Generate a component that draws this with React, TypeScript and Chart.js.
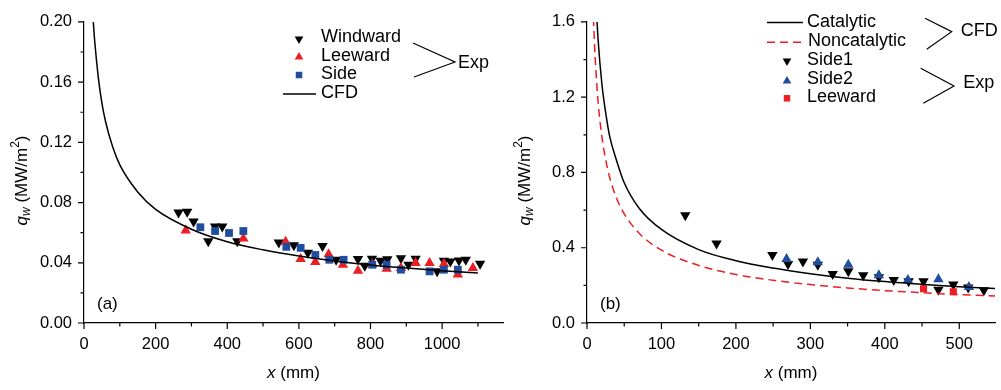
import React, { useEffect, useRef } from 'react';
import { Chart, registerables } from 'chart.js';
Chart.register(...registerables);

const FONT = '"Liberation Sans", Arial, Helvetica, sans-serif';
const RED = '#ee1d23';
const BLUE = '#1f4e9f';

// ---------- Panel (a) ----------
const aWindwardX = [264, 288, 306, 347, 366, 386, 428, 544, 586, 625, 666, 704, 765, 784, 804, 828, 847, 885, 906, 926, 986, 1005, 1023, 1047, 1066, 1106];
const aWindwardY = [0.0734, 0.0739, 0.0674, 0.0543, 0.0641, 0.0641, 0.0543, 0.0534, 0.0517, 0.0467, 0.0511, 0.042, 0.0425, 0.038, 0.0426, 0.0413, 0.0423, 0.043, 0.0387, 0.0426, 0.0343, 0.0413, 0.0408, 0.0415, 0.042, 0.0393];
const aLeewardX = [284, 445, 563, 605, 646, 683, 723, 765, 805, 845, 885, 926, 965, 1005, 1044, 1086];
const aLeewardY = [0.0615, 0.0562, 0.054, 0.0425, 0.0405, 0.0457, 0.0387, 0.0347, 0.0388, 0.036, 0.0366, 0.0399, 0.0399, 0.0392, 0.0322, 0.0366];
const aSideX = [325, 366, 405, 445, 565, 605, 646, 685, 725, 805, 845, 885, 965, 1005, 1044];
const aSideY = [0.0636, 0.0611, 0.0598, 0.0611, 0.0506, 0.0499, 0.0452, 0.042, 0.042, 0.0387, 0.0387, 0.0354, 0.0343, 0.0354, 0.0354];
const aCfdX = [22, 26, 30, 40, 50, 60, 80, 100, 150, 200, 300, 400, 500, 600, 700, 800, 900, 1000, 1100];
const aCfdY = [0.215, 0.2, 0.187, 0.163, 0.146, 0.134, 0.117, 0.105, 0.087, 0.0755, 0.0623, 0.054, 0.0486, 0.0445, 0.0412, 0.0386, 0.0365, 0.0347, 0.0332];
const aXTicks = [0, 200, 400, 600, 800, 1000];
const aXMinor = [100, 300, 500, 700, 900, 1100];
const aYTicks = [0, 0.04, 0.08, 0.12, 0.16, 0.2];
const aYMinor = [0.02, 0.06, 0.1, 0.14, 0.18];

// ---------- Panel (b) ----------
const bSide1X = [132, 174, 249, 270, 290, 310, 330, 351, 371, 392, 412, 432, 452, 472, 492, 512, 533];
const bSide1Y = [0.573, 0.422, 0.361, 0.313, 0.327, 0.31, 0.26, 0.275, 0.254, 0.243, 0.228, 0.222, 0.222, 0.177, 0.205, 0.188, 0.174];
const bSide2X = [268, 310, 351, 392, 431, 472, 513];
const bSide2Y = [0.34, 0.323, 0.31, 0.254, 0.229, 0.233, 0.191];
const bLeewardX = [452, 492];
const bLeewardY = [0.182, 0.166];
const bCatX = [12, 15, 20, 25, 30, 40, 50, 70, 100, 150, 200, 250, 300, 350, 400, 450, 500, 550];
const bCatY = [1.7, 1.5, 1.27, 1.12, 1.0, 0.86, 0.745, 0.61, 0.497, 0.39, 0.331, 0.292, 0.262, 0.238, 0.22, 0.206, 0.193, 0.183];
const bNonX = [8, 10, 12, 15, 20, 25, 30, 40, 50, 70, 100, 150, 200, 250, 300, 350, 400, 450, 500, 550];
const bNonY = [1.69, 1.49, 1.34, 1.17, 0.99, 0.87, 0.78, 0.66, 0.58, 0.477, 0.387, 0.306, 0.258, 0.227, 0.204, 0.186, 0.172, 0.161, 0.151, 0.143];
const bXTicks = [0, 100, 200, 300, 400, 500];
const bXMinor = [50, 150, 250, 350, 450];
const bYTicks = [0, 0.4, 0.8, 1.2, 1.6];
const bYMinor = [0.2, 0.6, 1.0, 1.4];

const pts = (xs: number[], ys: number[]) => xs.map((x, i) => ({ x, y: ys[i] }));

type Kind = 'down' | 'up' | 'square' | 'line' | 'dash';

function drawMark(ctx: CanvasRenderingContext2D, kind: Kind, x: number, y: number, color: string, s: number) {
  ctx.save();
  ctx.fillStyle = color;
  ctx.strokeStyle = color;
  if (kind === 'down' || kind === 'up') {
    const d = kind === 'down' ? 1 : -1;
    ctx.beginPath();
    ctx.moveTo(x, y + d * s);
    ctx.lineTo(x - s * 0.866, y - d * s * 0.5);
    ctx.lineTo(x + s * 0.866, y - d * s * 0.5);
    ctx.closePath();
    ctx.fill();
  } else if (kind === 'square') {
    ctx.fillRect(x - s / 2, y - s / 2, s, s);
  } else {
    ctx.lineWidth = 1.4;
    if (kind === 'dash') ctx.setLineDash([8, 5]);
    ctx.beginPath();
    ctx.moveTo(x - s / 2, y);
    ctx.lineTo(x + s / 2, y);
    ctx.stroke();
  }
  ctx.restore();
}

interface LegendItem { label: string; kind: Kind; color: string; mx: number; my: number; size: number; tx: number; ty: number; }
interface Brace { x1: number; y1: number; x2: number; y2: number; x3: number; y3: number; label: string; tx: number; ty: number; }
interface DecorCfg {
  xMajor: number[]; xMinor: number[]; yMajor: number[]; yMinor: number[];
  panel: string; legend: LegendItem[]; braces: Brace[];
}

function decor(cfg: DecorCfg) {
  return {
    id: 'decor',
    afterDraw(chart: any) {
      const ctx: CanvasRenderingContext2D = chart.ctx;
      const { left, right, top, bottom } = chart.chartArea;
      const xs = chart.scales.x;
      const ys = chart.scales.y;
      ctx.save();
      ctx.strokeStyle = '#000';
      ctx.lineWidth = 1.2;
      ctx.beginPath();
      cfg.xMajor.forEach((v) => { const p = xs.getPixelForValue(v); ctx.moveTo(p, bottom); ctx.lineTo(p, bottom + 6); });
      cfg.xMinor.forEach((v) => { const p = xs.getPixelForValue(v); ctx.moveTo(p, bottom); ctx.lineTo(p, bottom + 3.5); });
      cfg.yMajor.forEach((v) => { const p = ys.getPixelForValue(v); ctx.moveTo(left, p); ctx.lineTo(left - 6, p); });
      cfg.yMinor.forEach((v) => { const p = ys.getPixelForValue(v); ctx.moveTo(left, p); ctx.lineTo(left - 3.5, p); });
      ctx.stroke();

      ctx.fillStyle = '#000';
      ctx.textBaseline = 'middle';
      ctx.textAlign = 'left';

      // x title
      const xParts = [
        { t: 'x', f: `italic 17px ${FONT}` },
        { t: ' (mm)', f: `17px ${FONT}` },
      ];
      let tw = 0;
      const xw = xParts.map((p) => { ctx.font = p.f; const w = ctx.measureText(p.t).width; tw += w; return w; });
      let cx = (left + right) / 2 - tw / 2;
      xParts.forEach((p, i) => { ctx.font = p.f; ctx.fillText(p.t, cx, 373); cx += xw[i]; });

      // y title
      ctx.save();
      ctx.translate(left - 62, (top + bottom) / 2 + 8);
      ctx.rotate(-Math.PI / 2);
      const yParts = [
        { t: 'q', f: `italic 17px ${FONT}`, dy: 0 },
        { t: 'w', f: `italic 12px ${FONT}`, dy: 5 },
        { t: ' (MW/m', f: `17px ${FONT}`, dy: 0 },
        { t: '2', f: `12px ${FONT}`, dy: -6 },
        { t: ')', f: `17px ${FONT}`, dy: 0 },
      ];
      let yw = 0;
      const yws = yParts.map((p) => { ctx.font = p.f; const w = ctx.measureText(p.t).width; yw += w; return w; });
      let yx = -yw / 2;
      yParts.forEach((p, i) => { ctx.font = p.f; ctx.fillText(p.t, yx, p.dy); yx += yws[i]; });
      ctx.restore();

      // panel letter
      ctx.font = `17px ${FONT}`;
      ctx.fillText(cfg.panel, left + 13, 304);

      // legend
      ctx.font = `18px ${FONT}`;
      cfg.legend.forEach((it) => {
        drawMark(ctx, it.kind, it.mx, it.my, it.color, it.size);
        ctx.fillStyle = '#000';
        ctx.fillText(it.label, it.tx, it.ty);
      });
      ctx.lineWidth = 1.2;
      ctx.strokeStyle = '#000';
      cfg.braces.forEach((b) => {
        ctx.beginPath();
        ctx.moveTo(b.x1, b.y1);
        ctx.lineTo(b.x2, b.y2);
        ctx.lineTo(b.x3, b.y3);
        ctx.stroke();
        ctx.fillText(b.label, b.tx, b.ty);
      });
      ctx.restore();
    },
  };
}

function makeScales(xMax: number, yMax: number, xTicks: number[], yTicks: number[], yWidth: number, yDigits: number) {
  const tickFont = { family: FONT, size: 16.5 };
  return {
    x: {
      type: 'linear', min: 0, max: xMax,
      afterBuildTicks: (s: any) => { s.ticks = xTicks.map((v) => ({ value: v })); },
      afterFit: (s: any) => { s.height = 67; },
      grid: { display: true, drawOnChartArea: false, drawTicks: false },
      border: { display: true, color: '#000', width: 1.2 },
      ticks: { font: tickFont, color: '#000', padding: 12, autoSkip: false, maxRotation: 0, callback: (v: any) => String(v) },
    },
    y: {
      type: 'linear', min: 0, max: yMax,
      afterBuildTicks: (s: any) => { s.ticks = yTicks.map((v) => ({ value: v })); },
      afterFit: (s: any) => { s.width = yWidth; },
      grid: { display: true, drawOnChartArea: false, drawTicks: false },
      border: { display: true, color: '#000', width: 1.2 },
      ticks: { font: tickFont, color: '#000', padding: 12, autoSkip: false, callback: (v: any) => Number(v).toFixed(yDigits) },
    },
  };
}

export default function App() {
  const refA = useRef<HTMLCanvasElement>(null);
  const refB = useRef<HTMLCanvasElement>(null);

  useEffect(() => {
    const offB = 510;
    const chartA = new Chart(refA.current as HTMLCanvasElement, {
      type: 'scatter',
      data: {
        datasets: [
          { label: 'CFD', data: pts(aCfdX, aCfdY), showLine: true, borderColor: '#000', borderWidth: 1.5, pointRadius: 0, cubicInterpolationMode: 'monotone', fill: false } as any,
          { label: 'Side', data: pts(aSideX, aSideY), pointStyle: 'rect', pointRadius: 5.5, backgroundColor: BLUE, borderColor: BLUE, borderWidth: 0 },
          { label: 'Leeward', data: pts(aLeewardX, aLeewardY), pointStyle: 'triangle', pointRadius: 6, backgroundColor: RED, borderColor: RED, borderWidth: 0 },
          { label: 'Windward', data: pts(aWindwardX, aWindwardY), pointStyle: 'triangle', pointRotation: 180, pointRadius: 6, backgroundColor: '#000', borderColor: '#000', borderWidth: 0 } as any,
        ],
      },
      options: {
        responsive: false,
        animation: false,
        layout: { padding: { left: 0, right: 27, top: 16, bottom: 0 } },
        plugins: { legend: { display: false }, tooltip: { enabled: false } },
        scales: makeScales(1170, 0.2, aXTicks, aYTicks, 84, 2) as any,
      },
      plugins: [decor({
        xMajor: aXTicks, xMinor: aXMinor, yMajor: aYTicks, yMinor: aYMinor, panel: '(a)',
        legend: [
          { label: 'Windward', kind: 'down', color: '#000', mx: 299, my: 39, size: 5, tx: 321, ty: 37 },
          { label: 'Leeward', kind: 'up', color: RED, mx: 299, my: 57, size: 5, tx: 321, ty: 56 },
          { label: 'Side', kind: 'square', color: BLUE, mx: 299, my: 75, size: 6.5, tx: 321, ty: 74 },
          { label: 'CFD', kind: 'line', color: '#000', mx: 299.5, my: 94, size: 33, tx: 321, ty: 93 },
        ],
        braces: [{ x1: 413, y1: 43, x2: 455, y2: 62, x3: 414, y3: 77, label: 'Exp', tx: 458, ty: 63 }],
      })],
    } as any);

    const chartB = new Chart(refB.current as HTMLCanvasElement, {
      type: 'scatter',
      data: {
        datasets: [
          { label: 'Catalytic', data: pts(bCatX, bCatY), showLine: true, borderColor: '#000', borderWidth: 1.5, pointRadius: 0, cubicInterpolationMode: 'monotone', fill: false } as any,
          { label: 'Noncatalytic', data: pts(bNonX, bNonY), showLine: true, borderColor: RED, borderWidth: 1.5, borderDash: [8, 5], pointRadius: 0, cubicInterpolationMode: 'monotone', fill: false } as any,
          { label: 'Leeward', data: pts(bLeewardX, bLeewardY), pointStyle: 'rect', pointRadius: 5, backgroundColor: RED, borderColor: RED, borderWidth: 0 },
          { label: 'Side2', data: pts(bSide2X, bSide2Y), pointStyle: 'triangle', pointRadius: 6, backgroundColor: BLUE, borderColor: BLUE, borderWidth: 0 },
          { label: 'Side1', data: pts(bSide1X, bSide1Y), pointStyle: 'triangle', pointRotation: 180, pointRadius: 6, backgroundColor: '#000', borderColor: '#000', borderWidth: 0 } as any,
        ],
      },
      options: {
        responsive: false,
        animation: false,
        layout: { padding: { left: 0, right: 0, top: 16, bottom: 0 } },
        plugins: { legend: { display: false }, tooltip: { enabled: false } },
        scales: makeScales(548, 1.6, bXTicks, bYTicks, 77, 1) as any,
      },
      plugins: [decor({
        xMajor: bXTicks, xMinor: bXMinor, yMajor: bYTicks, yMinor: bYMinor, panel: '(b)',
        legend: [
          { label: 'Catalytic', kind: 'line', color: '#000', mx: 785 - offB, my: 22.5, size: 36, tx: 807 - offB, ty: 21.7 },
          { label: 'Noncatalytic', kind: 'dash', color: RED, mx: 785 - offB, my: 42.3, size: 36, tx: 808 - offB, ty: 41.2 },
          { label: 'Side1', kind: 'down', color: '#000', mx: 787 - offB, my: 61, size: 5, tx: 807 - offB, ty: 60.2 },
          { label: 'Side2', kind: 'up', color: BLUE, mx: 787 - offB, my: 81, size: 5, tx: 807 - offB, ty: 79.2 },
          { label: 'Leeward', kind: 'square', color: RED, mx: 787 - offB, my: 98.3, size: 6.5, tx: 807 - offB, ty: 97.5 },
        ],
        braces: [
          { x1: 925 - offB, y1: 18.3, x2: 951.7 - offB, y2: 31.7, x3: 926.7 - offB, y3: 49.3, label: 'CFD', tx: 960.7 - offB, ty: 30.7 },
          { x1: 920.7 - offB, y1: 68.3, x2: 954 - offB, y2: 86, x3: 923.3 - offB, y3: 103.3, label: 'Exp', tx: 963.3 - offB, ty: 83.3 },
        ],
      })],
    } as any);

    return () => {
      chartA.destroy();
      chartB.destroy();
    };
  }, []);

  return (
    <div style={{ position: 'fixed', left: 0, top: 0, width: 1001, height: 390, background: '#fff', overflow: 'hidden' }}>
      <canvas ref={refA} width={530} height={390} style={{ position: 'absolute', left: 0, top: 0, width: 530, height: 390 }} />
      <canvas ref={refB} width={491} height={390} style={{ position: 'absolute', left: 510, top: 0, width: 491, height: 390 }} />
    </div>
  );
}
